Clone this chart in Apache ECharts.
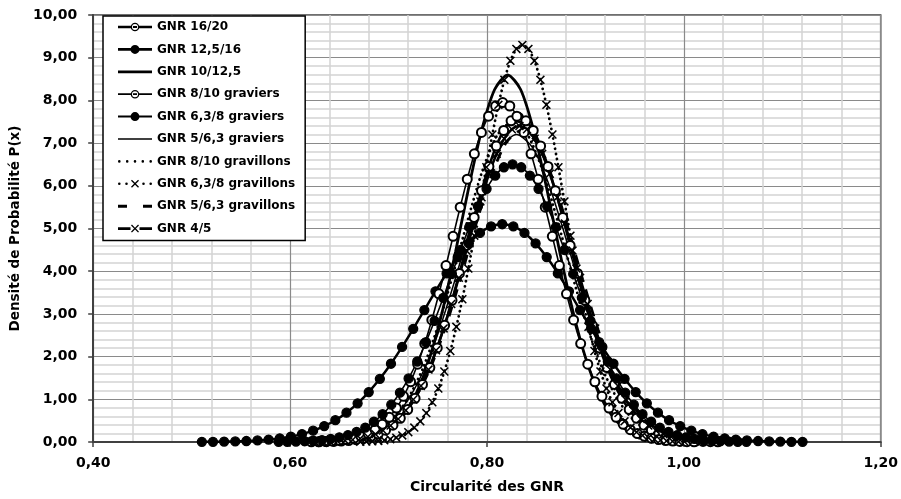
<!DOCTYPE html>
<html><head><meta charset="utf-8">
<script src="https://cdn.jsdelivr.net/npm/echarts@6/dist/echarts.min.js"></script>
<style>html,body{margin:0;padding:0;background:#fff}#c{width:901px;height:499px}</style>
</head><body><div id="c"></div>
<script>
// ---- data (circularity x, density y) ----
const names = ['GNR 16/20','GNR 12,5/16','GNR 10/12,5','GNR 8/10 graviers','GNR 6,3/8 graviers','GNR 5/6,3 graviers','GNR 8/10 gravillons','GNR 6,3/8 gravillons','GNR 5/6,3 gravillons','GNR 4/5'];
const xTicks = [0.40,0.60,0.80,1.00,1.20];
const yTicks = [0,1,2,3,4,5,6,7,8,9,10];

const x1620 = [0.6295,0.6370,0.6445,0.6520,0.6595,0.6670,0.6745,0.6820,0.6895,0.6970,0.7045,0.7120,0.7195,0.7270,0.7345,0.7420,0.7495,0.7570,0.7645,0.7720,0.7795,0.7870,0.7945,0.8020,0.8095,0.8170,0.8245,0.8320,0.8395,0.8470,0.8545,0.8620,0.8695,0.8770,0.8845,0.8920,0.8995,0.9070,0.9145,0.9220,0.9295,0.9370,0.9445,0.9520,0.9595,0.9670,0.9745,0.9820,0.9895,0.9970,1.0045,1.0120,1.0195,1.0270,1.0345];
const y1620 = [0.004,0.008,0.013,0.021,0.034,0.054,0.083,0.127,0.189,0.276,0.395,0.554,0.761,1.023,1.349,1.742,2.204,2.732,3.319,3.949,4.604,5.258,5.885,6.452,6.932,7.295,7.523,7.600,7.523,7.295,6.932,6.452,5.885,5.258,4.604,3.949,3.319,2.732,2.204,1.742,1.349,1.023,0.761,0.554,0.395,0.276,0.189,0.127,0.083,0.054,0.034,0.021,0.013,0.008,0.004];

const x12516 = [0.5104,0.5217,0.5330,0.5443,0.5556,0.5669,0.5782,0.5895,0.6008,0.6121,0.6234,0.6347,0.6460,0.6573,0.6686,0.6799,0.6912,0.7025,0.7138,0.7251,0.7364,0.7477,0.7590,0.7703,0.7816,0.7929,0.8042,0.8155,0.8268,0.8381,0.8494,0.8607,0.8720,0.8833,0.8946,0.9059,0.9172,0.9285,0.9398,0.9511,0.9624,0.9737,0.9850,0.9963,1.0076,1.0189,1.0302,1.0415,1.0528,1.0641,1.0754,1.0867,1.0980,1.1093,1.1206];
const y12516 = [0.003,0.005,0.009,0.014,0.023,0.036,0.056,0.085,0.127,0.185,0.265,0.372,0.510,0.687,0.905,1.169,1.479,1.833,2.227,2.650,3.089,3.529,3.949,4.330,4.651,4.896,5.048,5.100,5.048,4.896,4.651,4.330,3.949,3.529,3.089,2.650,2.227,1.833,1.479,1.169,0.905,0.687,0.510,0.372,0.265,0.185,0.127,0.085,0.056,0.036,0.023,0.014,0.009,0.005,0.003];

const x10125 = [0.6494,0.6626,0.6758,0.6890,0.7022,0.7154,0.7286,0.7418,0.7550,0.7682,0.7814,0.7946,0.8078,0.8210,0.8342,0.8474,0.8606,0.8738,0.8870,0.9002,0.9134,0.9266,0.9398,0.9530,0.9662,0.9794,0.9926];
const y10125 = [0.009,0.024,0.061,0.144,0.313,0.627,1.158,1.971,3.092,4.469,5.950,7.301,8.255,8.600,8.255,7.301,5.950,4.469,3.092,1.971,1.158,0.627,0.313,0.144,0.061,0.024,0.009];

const x810gr = [0.6216,0.6288,0.6360,0.6432,0.6504,0.6576,0.6648,0.6720,0.6792,0.6864,0.6936,0.7008,0.7080,0.7152,0.7224,0.7296,0.7368,0.7440,0.7512,0.7584,0.7656,0.7728,0.7800,0.7872,0.7944,0.8016,0.8088,0.8160,0.8232,0.8304,0.8376,0.8448,0.8520,0.8592,0.8664,0.8736,0.8808,0.8880,0.8952,0.9024,0.9096,0.9168,0.9240,0.9312,0.9384,0.9456,0.9528,0.9600,0.9672,0.9744,0.9816,0.9888,0.9960,1.0032,1.0104];
const y810gr = [0.005,0.008,0.013,0.022,0.035,0.056,0.087,0.133,0.198,0.289,0.413,0.579,0.796,1.070,1.411,1.822,2.306,2.858,3.471,4.131,4.816,5.500,6.156,6.750,7.251,7.631,7.869,7.950,7.869,7.631,7.251,6.750,6.156,5.500,4.816,4.131,3.471,2.858,2.306,1.822,1.411,1.070,0.796,0.579,0.413,0.289,0.198,0.133,0.087,0.056,0.035,0.022,0.013,0.008,0.005];

const x638gr = [0.5884,0.5972,0.6060,0.6148,0.6236,0.6324,0.6412,0.6500,0.6588,0.6676,0.6764,0.6852,0.6940,0.7028,0.7116,0.7204,0.7292,0.7380,0.7468,0.7556,0.7644,0.7732,0.7820,0.7908,0.7996,0.8084,0.8172,0.8260,0.8348,0.8436,0.8524,0.8612,0.8700,0.8788,0.8876,0.8964,0.9052,0.9140,0.9228,0.9316,0.9404,0.9492,0.9580,0.9668,0.9756,0.9844,0.9932,1.0020,1.0108,1.0196,1.0284,1.0372,1.0460,1.0548,1.0636];
const y638gr = [0.004,0.006,0.011,0.018,0.029,0.046,0.071,0.109,0.162,0.236,0.338,0.474,0.651,0.875,1.154,1.490,1.885,2.337,2.838,3.377,3.937,4.497,5.033,5.519,5.928,6.239,6.434,6.500,6.434,6.239,5.928,5.519,5.033,4.497,3.937,3.377,2.838,2.337,1.885,1.490,1.154,0.875,0.651,0.474,0.338,0.236,0.162,0.109,0.071,0.046,0.029,0.018,0.011,0.006,0.004];

const x563gr = [0.6246,0.6404,0.6562,0.6720,0.6878,0.7036,0.7194,0.7352,0.7510,0.7668,0.7826,0.7984,0.8142,0.8300,0.8458,0.8616,0.8774,0.8932,0.9090,0.9248,0.9406,0.9564,0.9722,0.9880,1.0038,1.0196,1.0354];
const y563gr = [0.007,0.020,0.051,0.120,0.262,0.525,0.969,1.650,2.588,3.741,4.982,6.113,6.911,7.200,6.911,6.113,4.982,3.741,2.588,1.650,0.969,0.525,0.262,0.120,0.051,0.020,0.007];

const x810gv = [0.6284,0.6436,0.6588,0.6740,0.6892,0.7044,0.7196,0.7348,0.7500,0.7652,0.7804,0.7956,0.8108,0.8260,0.8412,0.8564,0.8716,0.8868,0.9020,0.9172,0.9324,0.9476,0.9628,0.9780,0.9932,1.0084,1.0236];
const y810gv = [0.007,0.021,0.053,0.125,0.273,0.547,1.010,1.719,2.696,3.897,5.189,6.368,7.199,7.500,7.199,6.368,5.189,3.897,2.696,1.719,1.010,0.547,0.273,0.125,0.053,0.021,0.007];

const x638gv = [0.6713,0.6774,0.6835,0.6896,0.6957,0.7018,0.7079,0.7140,0.7201,0.7262,0.7323,0.7384,0.7445,0.7506,0.7567,0.7628,0.7689,0.7750,0.7811,0.7872,0.7933,0.7994,0.8055,0.8116,0.8177,0.8238,0.8299,0.8360,0.8421,0.8482,0.8543,0.8604,0.8665,0.8726,0.8787,0.8848,0.8909,0.8970,0.9031,0.9092,0.9153,0.9214,0.9275,0.9336,0.9397,0.9458,0.9519,0.9580,0.9641,0.9702,0.9763,0.9824,0.9885,0.9946,1.0007];
const y638gv = [0.005,0.009,0.016,0.026,0.041,0.066,0.102,0.155,0.231,0.338,0.484,0.678,0.931,1.252,1.651,2.132,2.697,3.343,4.061,4.832,5.634,6.435,7.202,7.896,8.482,8.927,9.205,9.300,9.205,8.927,8.482,7.896,7.202,6.435,5.634,4.832,4.061,3.343,2.697,2.132,1.651,1.252,0.931,0.678,0.484,0.338,0.231,0.155,0.102,0.066,0.041,0.026,0.016,0.009,0.005];

const x563gv = [0.6322,0.6478,0.6634,0.6790,0.6946,0.7102,0.7258,0.7414,0.7570,0.7726,0.7882,0.8038,0.8194,0.8350,0.8506,0.8662,0.8818,0.8974,0.9130,0.9286,0.9442,0.9598,0.9754,0.9910,1.0066,1.0222,1.0378];
const y563gv = [0.007,0.020,0.052,0.122,0.265,0.532,0.983,1.673,2.624,3.793,5.051,6.198,7.007,7.300,7.007,6.198,5.051,3.793,2.624,1.673,0.983,0.532,0.265,0.122,0.052,0.020,0.007];

const x45 = [0.6251,0.6328,0.6405,0.6482,0.6559,0.6636,0.6713,0.6790,0.6867,0.6944,0.7021,0.7098,0.7175,0.7252,0.7329,0.7406,0.7483,0.7560,0.7637,0.7714,0.7791,0.7868,0.7945,0.8022,0.8099,0.8176,0.8253,0.8330,0.8407,0.8484,0.8561,0.8638,0.8715,0.8792,0.8869,0.8946,0.9023,0.9100,0.9177,0.9254,0.9331,0.9408,0.9485,0.9562,0.9639,0.9716,0.9793,0.9870,0.9947,1.0024,1.0101,1.0178,1.0255,1.0332,1.0409];
const y45 = [0.004,0.007,0.012,0.020,0.033,0.052,0.081,0.124,0.184,0.269,0.385,0.539,0.741,0.996,1.313,1.696,2.146,2.660,3.231,3.845,4.483,5.120,5.730,6.283,6.749,7.103,7.325,7.400,7.325,7.103,6.749,6.283,5.730,5.120,4.483,3.845,3.231,2.660,2.146,1.696,1.313,0.996,0.741,0.539,0.385,0.269,0.184,0.124,0.081,0.052,0.033,0.020,0.012,0.007,0.004];

// ---- building ----
const pair = (xs, ys) => xs.map((x, i) => [x, ys[i]]);
const FONT = 'DejaVu Sans';
const X_SYM = 'path://M0,1.2L1.2,0L5,3.8L8.8,0L10,1.2L6.2,5L10,8.8L8.8,10L5,6.2L1.2,10L0,8.8L3.8,5Z';
const fmt = v => v.toFixed(2).replace('.', ',');

// legend icons (34 px wide, line + marker)
const rect = (x0, x1, h) => `M${x0},${-h}H${x1}V${h}H${x0}Z`;
const disc = (r) => `M${17 - r},0A${r},${r} 0 1,1 ${17 + r},0A${r},${r} 0 1,1 ${17 - r},0Z`;
const hole = (r) => `M${17 - r},0A${r},${r} 0 1,0 ${17 + r},0A${r},${r} 0 1,0 ${17 - r},0Z`;
const xmark = 'M13,-3.04L13.96,-4L17,-0.96L20.04,-4L21,-3.04L17.96,0L21,3.04L20.04,4L17,0.96L13.96,4L13,3.04L16.04,0Z';
const dot = (cx) => `M${cx - 1.3},0A1.3,1.3 0 1,1 ${cx + 1.3},0A1.3,1.3 0 1,1 ${cx - 1.3},0Z`;
const icons = [
  'path://' + rect(0, 13, 1.3) + rect(21, 34, 1.3) + disc(4.3) + hole(3) + rect(15, 19, 0.9),
  'path://' + rect(0, 13, 1.3) + rect(21, 34, 1.3) + disc(4.5),
  'path://' + rect(0, 34, 1.4),
  'path://' + rect(0, 13, 0.9) + rect(21, 34, 0.9) + disc(4.3) + hole(3) + rect(15, 19, 0.9),
  'path://' + rect(0, 13, 1) + rect(21, 34, 1) + disc(4.5),
  'path://' + rect(0, 34, 0.8),
  'path://' + dot(1.3) + dot(9.2) + dot(17) + dot(24.8) + dot(32.7),
  'path://' + dot(1.3) + dot(8.5) + xmark + dot(25.5) + dot(32.7),
  'path://' + rect(0, 9, 1.5) + rect(25, 34, 1.5),
  'path://' + rect(0, 12.5, 1.3) + rect(21.5, 34, 1.3) + xmark
];

function line(name, xs, ys, o) {
  return {
    name, type: 'line', data: pair(xs, ys), smooth: 0.25,
    showSymbol: o.symbol !== 'none', showAllSymbol: true,
    symbol: o.symbol || 'none', symbolSize: o.size || 8,
    lineStyle: { color: '#000', width: o.w || 2, type: o.type || 'solid', cap: o.cap || 'butt' },
    itemStyle: o.item || { color: '#000', borderColor: '#000', borderWidth: 1.3 },
    emphasis: { disabled: true }, z: 2
  };
}

const series = [
  line(names[0], x1620, y1620, { symbol: 'emptyCircle', size: 9, w: 2.5 }),
  line(names[1], x12516, y12516, { symbol: 'circle', size: 9, w: 2.5 }),
  line(names[2], x10125, y10125, { symbol: 'none', w: 2.8 }),
  line(names[3], x810gr, y810gr, { symbol: 'emptyCircle', size: 9, w: 1.6 }),
  line(names[4], x638gr, y638gr, { symbol: 'circle', size: 9, w: 1.6 }),
  line(names[5], x563gr, y563gr, { symbol: 'none', w: 1.5 }),
  line(names[6], x810gv, y810gv, { symbol: 'none', w: 2.8, type: [0.1, 5], cap: 'round' }),
  line(names[7], x638gv, y638gv, { symbol: X_SYM, size: 9, w: 2.8, type: [0.1, 5], cap: 'round', item: { color: '#000', borderWidth: 0 } }),
  line(names[8], x563gv, y563gv, { symbol: 'none', w: 2.8, type: [10, 8] }),
  line(names[9], x45, y45, { symbol: X_SYM, size: 9, w: 2.5, item: { color: '#000', borderWidth: 0 } })
];

const chart = echarts.init(document.getElementById('c'), null, { renderer: 'canvas' });
chart.setOption({
  animation: false,
  backgroundColor: '#fff',
  grid: { left: 91, right: 20, top: 15, bottom: 56, show: true, borderColor: '#404040', borderWidth: 1.5, containLabel: false },
  legend: {
    data: names.map((n, i) => ({ name: n, icon: icons[i], itemStyle: { color: '#000', borderWidth: 0 } })),
    orient: 'vertical', left: 103, top: 16,
    padding: [5, 10, 6, 15], itemGap: 10.4, itemWidth: 34, itemHeight: 14, symbolKeepAspect: true,
    backgroundColor: '#fff', borderColor: '#000', borderWidth: 1.5, borderRadius: 0,
    textStyle: { fontFamily: FONT, fontWeight: 'bold', fontSize: 12, color: '#000' },
    selectedMode: false
  },
  xAxis: {
    type: 'value', min: xTicks[0], max: xTicks[xTicks.length - 1], interval: 0.2,
    name: 'Circularité des GNR', nameLocation: 'middle', nameGap: 38,
    nameTextStyle: { fontFamily: FONT, fontWeight: 'bold', fontSize: 14, color: '#000' },
    axisLine: { show: true, lineStyle: { color: '#404040', width: 2 } },
    axisTick: { show: true, inside: false, length: 5, lineStyle: { color: '#404040', width: 1.5 } },
    axisLabel: { formatter: fmt, margin: 14, fontFamily: FONT, fontWeight: 'bold', fontSize: 14, color: '#000' },
    splitLine: { show: true, lineStyle: { color: '#8a8a8a', width: 1.2 } },
    minorTick: { show: false, splitNumber: 5 },
    minorSplitLine: { show: true, lineStyle: { color: '#d4d4d4', width: 1.5 } }
  },
  yAxis: {
    type: 'value', min: yTicks[0], max: yTicks[yTicks.length - 1], interval: 1,
    name: 'Densité de Probabilité P(x)', nameLocation: 'middle', nameGap: 66,
    nameTextStyle: { fontFamily: FONT, fontWeight: 'bold', fontSize: 13.5, color: '#000' },
    axisLine: { show: true, lineStyle: { color: '#404040', width: 2 } },
    axisTick: { show: true, inside: false, length: 5, lineStyle: { color: '#404040', width: 1.5 } },
    axisLabel: { formatter: fmt, margin: 16, fontFamily: FONT, fontWeight: 'bold', fontSize: 14, color: '#000' },
    splitLine: { show: true, lineStyle: { color: '#8a8a8a', width: 1.2 } },
    minorTick: { show: false, splitNumber: 5 },
    minorSplitLine: { show: true, lineStyle: { color: '#d4d4d4', width: 1.5 } }
  },
  series
});
</script>
</body></html>
